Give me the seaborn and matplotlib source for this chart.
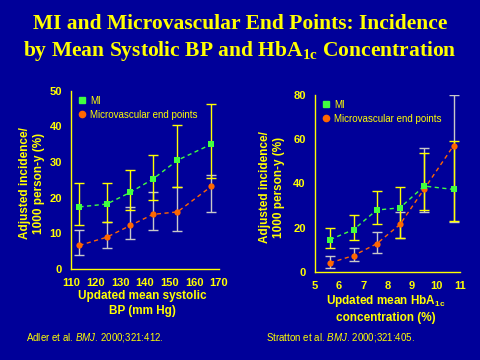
import matplotlib
matplotlib.use("Agg")
import matplotlib.pyplot as plt
from matplotlib.lines import Line2D
import pandas as pd
import seaborn as sns

# values
bp = [113.4, 124.5, 134.1, 143.2, 153.2, 167.0]
bp_mi = [17.4, 18.2, 21.5, 25.2, 30.5, 35.0]
bp_mi_lo = [12.3, 13.3, 16.5, 19.3, 23.0, 25.5]
bp_mi_hi = [24.0, 24.0, 27.7, 32.1, 40.3, 46.4]
bp_mv = [6.6, 8.9, 12.2, 15.3, 16.0, 23.2]
bp_mv_lo = [3.9, 5.9, 8.4, 10.9, 10.5, 16.0]
bp_mv_hi = [10.8, 13.3, 17.4, 21.5, 23.0, 26.3]

hba = [5.63, 6.60, 7.55, 8.51, 9.51, 10.72]
hba_mi = [14.7, 19.2, 28.0, 29.0, 38.8, 37.3]
hba_mi_lo = [10.7, 14.6, 21.5, 15.2, 27.8, 22.9]
hba_mi_hi = [19.8, 25.6, 36.4, 38.2, 53.7, 59.0]
hba_mv = [4.2, 7.5, 12.8, 21.5, 37.5, 57.0]
hba_mv_lo = [2.1, 5.0, 8.6, 15.5, 27.0, 22.5]
hba_mv_hi = [7.5, 11.0, 17.9, 27.0, 56.1, 80.0]

bp_ticks = [110, 120, 130, 140, 150, 160, 170]
bp_yticks = [0, 10, 20, 30, 40, 50]
hba_ticks = [5, 6, 7, 8, 9, 10, 11]
hba_yticks = [0, 20, 40, 60, 80]

BG = "#000099"
YEL = "#ffff00"
GREEN = "#40ff40"
ORANGE = "#ff6600"
GREY = "#c8c8c8"

sns.set_style("white")
plt.rcParams["font.family"] = ["Liberation Sans", "DejaVu Sans"]
plt.rcParams["mathtext.fontset"] = "custom"
plt.rcParams["mathtext.rm"] = "Liberation Sans"
plt.rcParams["mathtext.it"] = "Liberation Sans:italic"
plt.rcParams["mathtext.bf"] = "Liberation Sans:bold"

fig = plt.figure(figsize=(4.8, 3.6), dpi=100, facecolor=BG)
ax1 = fig.add_axes([0.148, 0.253, 0.308, 0.495])
ax2 = fig.add_axes([0.656, 0.244, 0.303, 0.493])


def panel(ax, x, mi, mi_lo, mi_hi, mv, mv_lo, mv_hi):
    ax.set_facecolor(BG)
    mv_err = [[m - l for m, l in zip(mv, mv_lo)], [h - m for m, h in zip(mv, mv_hi)]]
    mi_err = [[m - l for m, l in zip(mi, mi_lo)], [h - m for m, h in zip(mi, mi_hi)]]
    ax.errorbar(x, mv, yerr=mv_err, fmt="none", ecolor=GREY, elinewidth=1,
                capsize=3.5, capthick=1, zorder=2)
    ax.errorbar(x, mi, yerr=mi_err, fmt="none", ecolor=YEL, elinewidth=1,
                capsize=3.5, capthick=1, zorder=3)
    df = pd.DataFrame({"x": x, "mi": mi, "mv": mv})
    sns.lineplot(data=df, x="x", y="mv", ax=ax, color=ORANGE, linestyle=(0, (3, 2.5)),
                 linewidth=1, marker="o", markersize=4.5, markeredgewidth=0,
                 markerfacecolor=ORANGE, zorder=4)
    sns.lineplot(data=df, x="x", y="mi", ax=ax, color=GREEN, linestyle=(0, (3, 2.5)),
                 linewidth=1, marker="s", markersize=4.5, markeredgewidth=0,
                 markerfacecolor=GREEN, zorder=5)
    for s in ["top", "right"]:
        ax.spines[s].set_visible(False)
    for s in ["left", "bottom"]:
        ax.spines[s].set_color(YEL)
        ax.spines[s].set_linewidth(1)
    ax.tick_params(colors=YEL, direction="out", length=3.5, width=1, labelsize=8, pad=3)
    ax.set_ylabel("Adjusted incidence/\n1000 person-y (%)", color=YEL,
                  fontsize=8.5, fontweight="bold", linespacing=1.2)
    handles = [
        Line2D([], [], linestyle="none", marker="s", markersize=4, color=GREEN),
        Line2D([], [], linestyle="none", marker="o", markersize=4.5, color=ORANGE),
    ]
    leg = ax.legend(handles, ["MI", "Microvascular end points"], loc="upper left",
                    bbox_to_anchor=(0.0, 1.01), frameon=False, fontsize=7,
                    handlelength=0.8, handletextpad=0.5, labelspacing=0.4,
                    borderaxespad=0.3)
    for t in leg.get_texts():
        t.set_color(YEL)


panel(ax1, bp, bp_mi, bp_mi_lo, bp_mi_hi, bp_mv, bp_mv_lo, bp_mv_hi)
ax1.set_xlim(110, 170)
ax1.set_ylim(0, 50)
ax1.set_xticks(bp_ticks)
ax1.set_yticks(bp_yticks)
ax1.set_xlabel("Updated mean systolic\nBP (mm Hg)", color=YEL, fontsize=8.5,
               fontweight="bold", linespacing=1.25)
ax1.xaxis.set_label_coords(0.48, -0.12)
ax1.yaxis.set_label_coords(-0.175, 0.48)

panel(ax2, hba, hba_mi, hba_mi_lo, hba_mi_hi, hba_mv, hba_mv_lo, hba_mv_hi)
ax2.set_xlim(5, 11)
ax2.set_ylim(0, 80)
ax2.set_xticks(hba_ticks)
ax2.set_yticks(hba_yticks)
ax2.set_xlabel("Updated mean HbA$_\\mathregular{1c}$\nconcentration (%)", color=YEL,
               fontsize=8.5, fontweight="bold", linespacing=1.25)
ax2.xaxis.set_label_coords(0.49, -0.12)
ax2.yaxis.set_label_coords(-0.205, 0.48)

for lab in ax1.get_xticklabels() + ax1.get_yticklabels() + ax2.get_xticklabels() + ax2.get_yticklabels():
    lab.set_fontweight("bold")

fig.text(0.5, 1 - 24 / 360, "MI and Microvascular End Points: Incidence",
         ha="center", va="center", color=YEL, fontsize=15.5, fontweight="bold",
         family=["Liberation Serif", "DejaVu Serif"])
fig.text(0.5, 1 - 51 / 360, "by Mean Systolic BP and HbA$_\\mathregular{1c}$ Concentration",
         ha="center", va="center", color=YEL, fontsize=15.5, fontweight="bold",
         family=["Liberation Serif", "DejaVu Serif"])

fig.text(26 / 480, 1 - 337 / 360, "Adler et al. $\\mathit{BMJ}$. 2000;321:412.",
         ha="left", va="center", color=YEL, fontsize=7)
fig.text(266 / 480, 1 - 337 / 360, "Stratton et al. $\\mathit{BMJ}$. 2000;321:405.",
         ha="left", va="center", color=YEL, fontsize=7)

fig.savefig("out.png", dpi=100, facecolor=BG)
